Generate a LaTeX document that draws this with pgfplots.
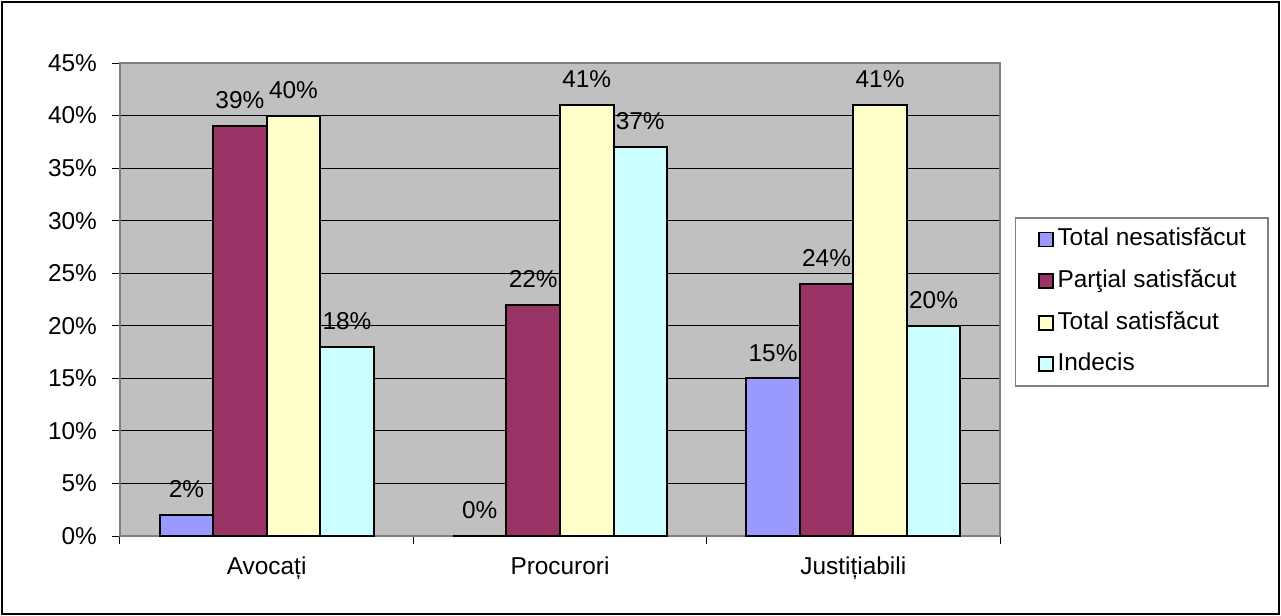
\documentclass[border=0pt]{standalone}
\usepackage{fontspec}
\setmainfont{Liberation Sans}
\usepackage{pgfplots}
\pgfplotsset{compat=1.18}
\definecolor{cBlue}{HTML}{9999FF}
\definecolor{cRed}{HTML}{993366}
\definecolor{cYel}{HTML}{FFFFCC}
\definecolor{cCyan}{HTML}{CCFFFF}
\definecolor{cBg}{HTML}{C0C0C0}
\definecolor{cBord}{HTML}{808080}
\pgfplotsset{
  sqlegend/.style={legend image code/.code={\draw[##1,draw=black,line width=0.9pt] (0pt,-3.5pt) rectangle (7pt,3.5pt);}},
}
\newcommand{\cf}{\fontsize{12.2}{14}\selectfont}
\begin{document}
\begin{tikzpicture}[x=1pt,y=1pt,font=\cf]
\path[use as bounding box] (0,0) rectangle (640.5,308);
\draw[black, line width=1pt] (1,1) rectangle (639.5,307);
\begin{axis}[
  at={(60pt,40pt)}, anchor=south west,
  scale only axis, width=440pt, height=236.5pt,
  xmin=-0.5, xmax=2.5, ymin=0, ymax=45,
  ybar, bar width=0.1824,
  axis background/.style={fill=cBg},
  axis line style={cBord, line width=1pt},
  ytick={0,5,10,15,20,25,30,35,40,45},
  yticklabels={0\%,5\%,10\%,15\%,20\%,25\%,30\%,35\%,40\%,45\%},
  ticklabel style={font=\cf},
  yticklabel style={xshift=-4pt},
  ymajorgrids, major grid style={black, line width=0.5pt},
  xtick={-0.5,0.5,1.5,2.5},
  xticklabels={Avocați,Procurori,Justițiabili},
  x tick label as interval,
  xticklabel style={yshift=-3pt},
  xtick pos=left, ytick pos=left,
  tick align=outside,
  major tick length=4pt,
  tick style={black, line width=0.5pt},
  /pgf/number format/assume math mode=true,
  nodes near coords={\pgfmathprintnumber{\pgfplotspointmeta}\%},
  every node near coord/.append style={font=\cf, inner sep=0pt, yshift=8pt, black, anchor=south},
  legend style={at={(1.017,0.674)}, anchor=north west, draw=cBord, line width=0.75pt,
    fill=white, inner xsep=11pt, inner ysep=5pt, row sep=9.3pt, column sep=2pt, font=\cf,
    nodes={inner sep=0pt, text height=9pt, text depth=2.5pt, anchor=west}},
  legend cell align=left,
]
\addplot[fill=cBlue, draw=black, line width=1pt, bar shift=-0.2736, sqlegend] coordinates {(0,2) (1,0) (2,15)};
\addplot[fill=cRed, draw=black, line width=1pt, bar shift=-0.0912, sqlegend] coordinates {(0,39) (1,22) (2,24)};
\addplot[fill=cYel, draw=black, line width=1pt, bar shift=0.0912, sqlegend] coordinates {(0,40) (1,41) (2,41)};
\addplot[fill=cCyan, draw=black, line width=1pt, bar shift=0.2736, sqlegend] coordinates {(0,18) (1,37) (2,20)};
\legend{Total nesatisfăcut, Parţial satisfăcut, Total satisfăcut, Indecis}
\end{axis}
\end{tikzpicture}
\end{document}
